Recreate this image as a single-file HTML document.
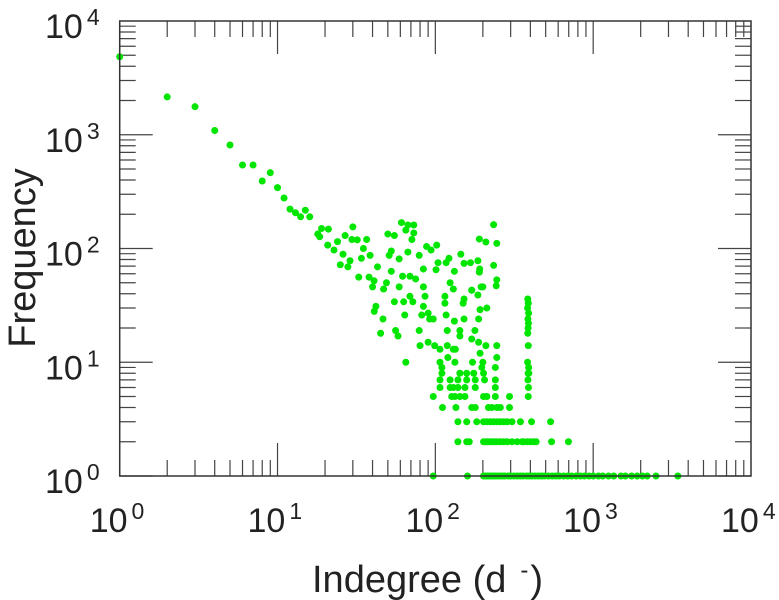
<!DOCTYPE html>
<html><head><meta charset="utf-8"><style>
html,body{margin:0;padding:0;background:#fff}
svg{display:block;font-family:"Liberation Sans",sans-serif}
</style></head><body>
<svg id="chart" width="779" height="600" viewBox="0 0 779 600" xmlns="http://www.w3.org/2000/svg">
<g id="ticks"></g>
<g id="points"></g>
<rect x="119.7" y="21" width="631.3" height="455" fill="none" stroke="#333" stroke-width="1.5"/>
<g id="labels"></g>
<text x="312" y="592" font-size="38" fill="#222">Indegree (d<tspan dx="14" dy="-14" font-size="24">-</tspan><tspan dx="2" dy="14">)</tspan></text>
<text transform="translate(35,258) rotate(-90)" text-anchor="middle" font-size="38" fill="#222">Frequency</text>
</svg>
<script>
const xExponents=[0,1,2,3,4];
const yExponents=[0,1,2,3,4];
const degrees=[1,2,3,4,5,6,7,8,9,10,11,12,13,14,15,16,
18,18.5,19,21,20.8,22.8,24,26,25,27.9,28.8,26.8,30,29.6,32,36.7,34,35,38.6,32.7,38,40.9,40,43,49,47,50,55,51,52.6,59,52.6,61,67,73,65,73,71,67,79,62,69,75,59,84,84,88,94,102,101,104,122,117,145,132,152,167,186,191,190,190,209,234,245,234,245,243,124,130,170,195,200,
42,41,46.6,45,56,58,55,63,64,69,72,65,79,84,82,90,92,97,86,80,90,99,107,115,117,115,119,119,130,134,132,143,152,143,152,150,170,186,192,188,212,178,170,188,209,192,245,245,120,107,133,172,200,
385,388,384,390,386,389,387,385,388,384,390,387,386,389,388,
110,197,240,
110,143,158,175,202,391,
107,124,139,158,179,205,240,
107,124,130,139,154,179,240,
97,127,133,143,154,202,212,240,295,
111,135,170,179,217,228,246,258,295,
139,158,183,202,212,223,234,246,258,271,285,306,346,407,537,
139,158,164,202,208,215,223,230,238,246,258,271,285,306,330,355,363,382,401,421,435,545,697,
97,160,202,208,215,222,230,238,245,255,265,275,290,300,315,330,345,360,380,395,410,430,450,470,490,520,550,580,610,650,690,730,780,830,880,940,1000,1080,1150,1250,1350,1500,1600,1750,1900,2050,2200,2500,3440];
const freqs=[4850,2150,1765,1090,813,542,542,392,464,343,278,222,206,190,217,190,
134,127,150,148,107,97,115,89,72,69,78,130,155,120,119,120,82,100,87,56,56,52,46,69,50,44,134,130,87,95,81,63,169,161,161,145,137,120,93,87,57,57,54,46,66,46,104,97,107,65,75,82,75,89,63,74,75,78,66,62,121,114,162,111,71,53,47,50,44,43,46,46,
31,28,24,18,19,17,34,34,26,38,34,10,19,31,26,27,24,24,38,14,15,14,13,38,26,33,19,14,13,13,23,19,24,17,36,33,43,39,29,24,30,19,16,15,14,12,14,11,11,10,10,10,10,
36,33,30,27,24,22,20,18,14,10,9,8,7,6,5,
9,9,9,
8,8,8,8,8,8,
7,7,7,7,7,7,7,
6,6,6,6,6,6,6,
5,5,5,5,5,5,5,5,5,
4,4,4,4,4,4,4,4,4,
3,3,3,3,3,3,3,3,3,3,3,3,3,3,3,
2,2,2,2,2,2,2,2,2,2,2,2,2,2,2,2,2,2,2,2,2,2,2,
1,1,1,1,1,1,1,1,1,1,1,1,1,1,1,1,1,1,1,1,1,1,1,1,1,1,1,1,1,1,1,1,1,1,1,1,1,1,1,1,1,1,1,1,1,1,1,1,1];

const L=119.7,R=751,T=21,B=476;
const xMin=xExponents[0],xMax=xExponents[xExponents.length-1];
const yMin=yExponents[0],yMax=yExponents[yExponents.length-1];
function xScale(v){return L+(Math.log10(v)-xMin)/(xMax-xMin)*(R-L);}
function yScale(v){return B-(Math.log10(v)-yMin)/(yMax-yMin)*(B-T);}
const NS="http://www.w3.org/2000/svg";
function mk(tag,attrs,parent){const e=document.createElementNS(NS,tag);for(const k in attrs)e.setAttribute(k,attrs[k]);parent.appendChild(e);return e;}
const tg=document.getElementById('ticks');
for(let e=xMin;e<xMax;e++){for(let m=1;m<10;m++){const v=m*Math.pow(10,e);const x=xScale(v);const len=m===1?33:16;
 const t1=mk('line',{x1:x,x2:x,y1:B,y2:B-len,stroke:'#444','stroke-width':1.2},tg);
 
 
 const t2=mk('line',{x1:x,x2:x,y1:T,y2:T+len,stroke:'#444','stroke-width':1.2},tg);
 
 }}
for(let e=yMin;e<yMax;e++){for(let m=1;m<10;m++){const v=m*Math.pow(10,e);const y=yScale(v);const len=m===1?33:16;
 const t1=mk('line',{x1:L,x2:L+len,y1:y,y2:y,stroke:'#444','stroke-width':1.2},tg);
 
 
 const t2=mk('line',{x1:R,x2:R-len,y1:y,y2:y,stroke:'#444','stroke-width':1.2},tg);
 
 }}
const pg=document.getElementById('points');
for(let i=0;i<degrees.length;i++){
 const c=mk('circle',{cx:xScale(degrees[i]),cy:yScale(freqs[i]),r:3.5,fill:'#00e600'},pg);
 
 }
const lg=document.getElementById('labels');
xExponents.forEach(e=>{const x=xScale(Math.pow(10,e));
 const t=mk('text',{x:x-30,y:532,'font-size':34,fill:'#222'},lg);
 
 
 t.textContent='10';
 const s=mk('tspan',{dx:4,dy:-13,'font-size':23},t);s.textContent=String(e);});
yExponents.forEach(e=>{const y=yScale(Math.pow(10,e));
 const t=mk('text',{x:45,y:y+17,'font-size':34,fill:'#222'},lg);
 
 
 t.textContent='10';
 const s=mk('tspan',{dx:4,dy:-13,'font-size':23},t);s.textContent=String(e);});
</script>
</body></html>
